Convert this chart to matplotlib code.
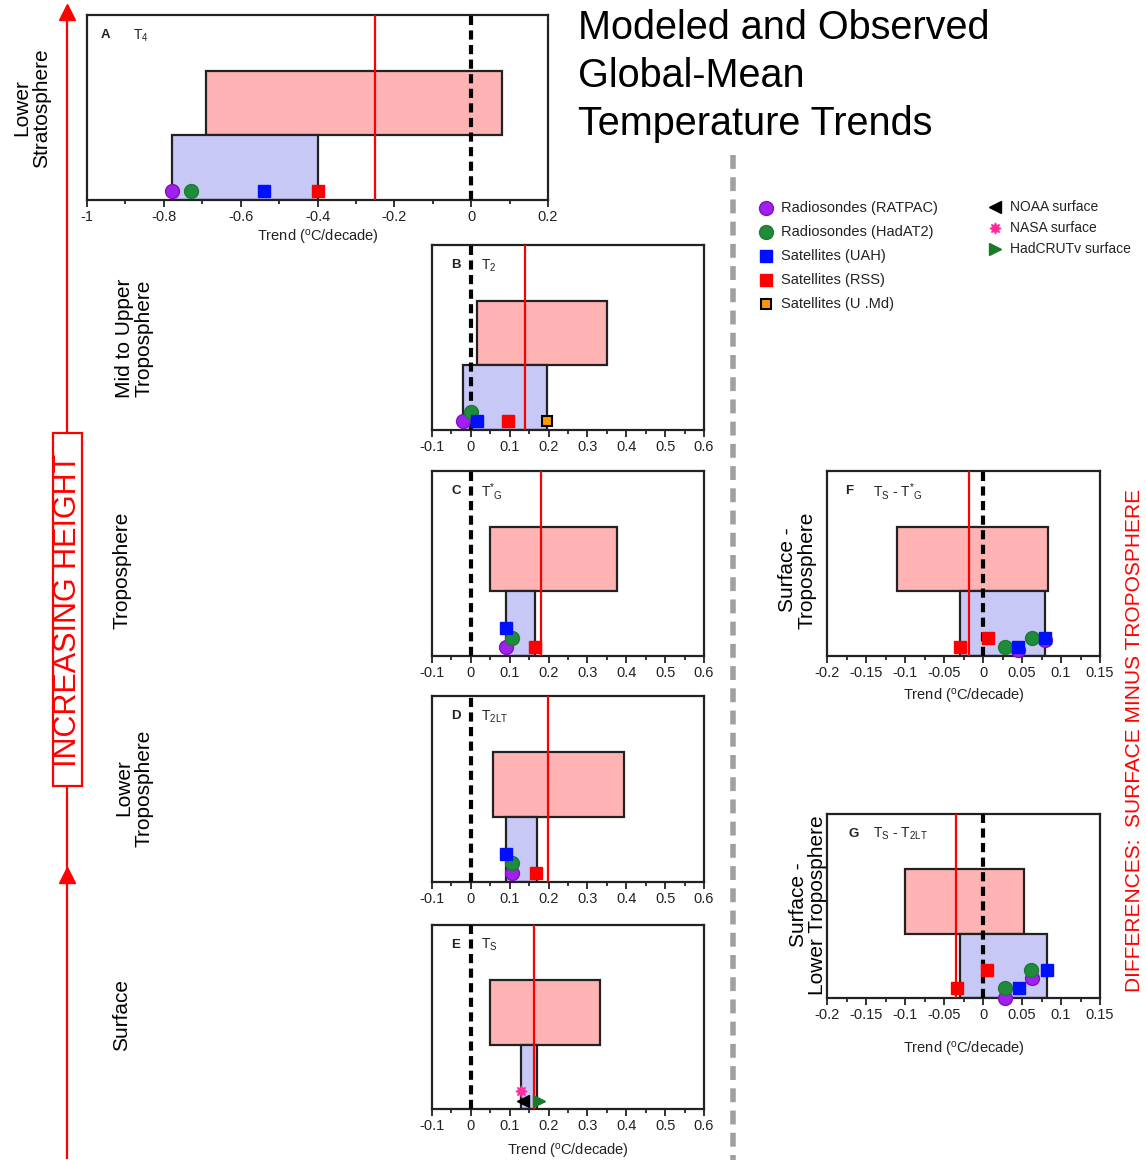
import matplotlib
matplotlib.use('Agg')
import matplotlib.pyplot as plt
from matplotlib.ticker import FixedLocator, MultipleLocator
from matplotlib.patches import Rectangle

plt.rcParams['font.family'] = ['Liberation Sans', 'DejaVu Sans']
plt.rcParams['mathtext.fontset'] = 'custom'
plt.rcParams['mathtext.rm'] = 'Liberation Sans'
plt.rcParams['mathtext.default'] = 'regular'

# panels A..G
panel_ids = ['A', 'B', 'C', 'D', 'E', 'F', 'G']
panel_vars = ['T$_4$', 'T$_2$', 'T$^{*}{}_{G}$', 'T$_{2LT}$', 'T$_S$',
              'T$_S$ - T$^{*}{}_{G}$', 'T$_S$ - T$_{2LT}$']

# model range (pink), observed range (blue), model mean (red line)
model_lo = [-0.69, 0.015, 0.05, 0.058, 0.05, -0.11, -0.10]
model_hi = [0.08, 0.35, 0.375, 0.395, 0.333, 0.083, 0.052]
obs_lo = [-0.78, -0.02, 0.09, 0.09, 0.13, -0.03, -0.03]
obs_hi = [-0.40, 0.195, 0.165, 0.17, 0.17, 0.08, 0.082]
model_mean = [-0.25, 0.14, 0.18, 0.198, 0.163, -0.018, -0.035]

# observed trends: (dataset, trend, stacking level)
obs_A = [('RATPAC', -0.78, 0.05), ('HadAT2', -0.73, 0.05), ('UAH', -0.54, 0.05), ('RSS', -0.40, 0.05)]
obs_B = [('RATPAC', -0.02, 0.05), ('HadAT2', 0.0, 0.10), ('UAH', 0.015, 0.05), ('RSS', 0.095, 0.05), ('UMd', 0.195, 0.05)]
obs_C = [('RATPAC', 0.09, 0.05), ('HadAT2', 0.105, 0.10), ('UAH', 0.09, 0.15), ('RSS', 0.165, 0.05)]
obs_D = [('RATPAC', 0.105, 0.05), ('HadAT2', 0.105, 0.10), ('UAH', 0.09, 0.15), ('RSS', 0.168, 0.05)]
obs_E = [('NOAA', 0.135, 0.045), ('NASA', 0.13, 0.10), ('HadCRUT', 0.175, 0.045)]
obs_F = [('RATPAC', 0.045, 0.03), ('RATPAC', 0.08, 0.085), ('HadAT2', 0.028, 0.05), ('HadAT2', 0.063, 0.10),
         ('UAH', 0.045, 0.05), ('UAH', 0.08, 0.10), ('RSS', -0.03, 0.05), ('RSS', 0.006, 0.10)]
obs_G = [('RATPAC', 0.028, 0.0), ('RATPAC', 0.063, 0.11), ('HadAT2', 0.028, 0.054), ('HadAT2', 0.062, 0.15),
         ('UAH', 0.046, 0.054), ('UAH', 0.082, 0.15), ('RSS', -0.033, 0.054), ('RSS', 0.005, 0.15)]
obs_all = [obs_A, obs_B, obs_C, obs_D, obs_E, obs_F, obs_G]

ticks_A = [-1, -0.8, -0.6, -0.4, -0.2, 0, 0.2]
ticks_BE = [-0.1, 0, 0.1, 0.2, 0.3, 0.4, 0.5, 0.6]
ticks_FG = [-0.2, -0.15, -0.1, -0.05, 0, 0.05, 0.1, 0.15]

legend_names = ['Radiosondes (RATPAC)', 'Radiosondes (HadAT2)', 'Satellites (UAH)',
                'Satellites (RSS)', 'Satellites (U .Md)']
legend_keys = ['RATPAC', 'HadAT2', 'UAH', 'RSS', 'UMd']
legend_names2 = ['NOAA surface', 'NASA surface', 'HadCRUTv surface']
legend_keys2 = ['NOAA', 'NASA', 'HadCRUT']

style = {
    'RATPAC': dict(marker='o', color='#A020F0', mec='#8010C0', ms=10),
    'HadAT2': dict(marker='o', color='#1E8C3A', mec='#1E7A30', ms=10),
    'UAH': dict(marker='s', color='#0010FF', mec='#0010FF', ms=8.5),
    'RSS': dict(marker='s', color='#FF0000', mec='#FF0000', ms=8.5),
    'UMd': dict(marker='s', color='#FF9900', mec='black', ms=7.5, mew=1.5),
    'NOAA': dict(marker='<', color='black', mec='black', ms=8),
    'NASA': dict(marker=(8, 1, 0), color='#FF2EA0', mec='#FF2EA0', ms=8),
    'HadCRUT': dict(marker='>', color='#1A7A2A', mec='#1A7A2A', ms=8),
}

W, H = 1146, 1160
fig = plt.figure(figsize=(W / 100, H / 100), dpi=100)

# overlay in pixel coordinates for decorations
ov = fig.add_axes([0, 0, 1, 1])
ov.set_xlim(0, W)
ov.set_ylim(H, 0)
ov.axis('off')


def px_axes(l, t, r, b):
    return fig.add_axes([l / W, 1 - b / H, (r - l) / W, (b - t) / H])


def fmt(v):
    return f"{round(v, 4) + 0.0:g}"


boxes = [(87, 15, 548, 200), (432, 245, 704, 430), (432, 471, 704, 656),
         (432, 696, 704, 882), (432, 925, 704, 1109), (827, 471, 1100, 656),
         (827, 814, 1100, 998)]
tick_sets = [ticks_A, ticks_BE, ticks_BE, ticks_BE, ticks_BE, ticks_FG, ticks_FG]
letter_x = [0.03, 0.07, 0.07, 0.07, 0.07, 0.066, 0.077]
var_x = [0.10, 0.18, 0.18, 0.18, 0.18, 0.17, 0.17]
xlabel_on = [True, False, False, False, True, True, True]
label_pad = [3, 4, 4, 4, 7, 5, 13]

for i, box in enumerate(boxes):
    ax = px_axes(*box)
    ticks = tick_sets[i]
    ax.set_xlim(ticks[0], ticks[-1])
    ax.set_ylim(0, 1)
    ax.barh(0.525, model_hi[i] - model_lo[i], left=model_lo[i], height=0.35,
            color='#FFB3B3', edgecolor='#222222', lw=1.6, zorder=2)
    ax.barh(0.175, obs_hi[i] - obs_lo[i], left=obs_lo[i], height=0.35,
            color='#C8C8F7', edgecolor='#222222', lw=1.6, zorder=2)
    ax.axvline(model_mean[i], color='red', lw=1.6, zorder=3)
    ax.axvline(0, color='black', lw=3, ls=(0, (2.2, 1.3)), zorder=3)
    for name, x, y in obs_all[i]:
        ax.plot([x], [y], ls='none', clip_on=False, zorder=5, **style[name])
    ax.xaxis.set_major_locator(FixedLocator(ticks))
    ax.xaxis.set_minor_locator(MultipleLocator((ticks[1] - ticks[0]) / 2))
    ax.set_xticklabels([fmt(t) for t in ticks])
    ax.set_yticks([])
    ax.tick_params(axis='x', which='major', direction='out', length=5, width=1.3,
                   labelsize=10.5, pad=2, colors='#222222')
    ax.tick_params(axis='x', which='minor', direction='out', length=3, width=1.1)
    for sp in ax.spines.values():
        sp.set_linewidth(1.6)
        sp.set_color('#222222')
    ax.text(letter_x[i], 0.89, panel_ids[i], transform=ax.transAxes,
            fontsize=9.5, fontweight='bold', va='center', color='#222222')
    ax.text(var_x[i], 0.89, panel_vars[i], transform=ax.transAxes,
            fontsize=10, va='center', color='#222222')
    if xlabel_on[i]:
        ax.set_xlabel('Trend ($^{o}$C/decade)', fontsize=10.5, labelpad=label_pad[i],
                      color='#222222')

# title
ov.text(578, 28, 'Modeled and Observed', fontsize=28.5, va='center', ha='left')
ov.text(578, 76, 'Global-Mean', fontsize=28.5, va='center', ha='left')
ov.text(578, 124, 'Temperature Trends', fontsize=28.5, va='center', ha='left')

# legend
leg_y = [208, 232, 256, 280, 304]
for k, name, y in zip(legend_keys, legend_names, leg_y):
    ov.plot([766], [y], ls='none', **style[k])
    ov.text(781, y, name, fontsize=10.5, va='center', color='#222222')
leg_y2 = [207, 228, 249]
for k, name, y in zip(legend_keys2, legend_names2, leg_y2):
    ov.plot([995], [y], ls='none', **style[k])
    ov.text(1010, y, name, fontsize=10, va='center', color='#222222')

# row labels
lab = dict(rotation=90, fontsize=15, ha='center', va='center', linespacing=1.05)
ov.text(32, 108, 'Lower\nStratosphere', **lab)
ov.text(134, 338, 'Mid to Upper\nTroposphere', **lab)
ov.text(122, 570, 'Troposphere', **lab)
ov.text(134, 788, 'Lower\nTroposphere', **lab)
ov.text(122, 1015, 'Surface', **lab)
ov.text(797, 570, 'Surface -\nTroposphere', **lab)
ov.text(808, 905, 'Surface -\nLower Troposphere', **lab)
ov.text(1134, 740, 'DIFFERENCES:  SURFACE MINUS TROPOSPHERE', rotation=90, fontsize=15,
        color='red', ha='center', va='center')

# height arrow
ov.plot([67, 67], [1158, 12], color='red', lw=1.6)
ov.plot([67], [12], marker='^', color='red', ms=11, ls='none')
ov.plot([67], [875], marker='^', color='red', ms=11, ls='none')
ov.add_patch(Rectangle((53, 433), 29, 353, facecolor='white', edgecolor='red', lw=1.6, zorder=4))
ov.text(68, 610, 'INCREASING HEIGHT', rotation=90, fontsize=22, color='red',
        ha='center', va='center', zorder=5)

# separator
ov.plot([733, 733], [155, 1160], color='#A0A0A0', lw=4, ls=(0, (2.5, 1.5)))

fig.savefig('out.png', dpi=100)
